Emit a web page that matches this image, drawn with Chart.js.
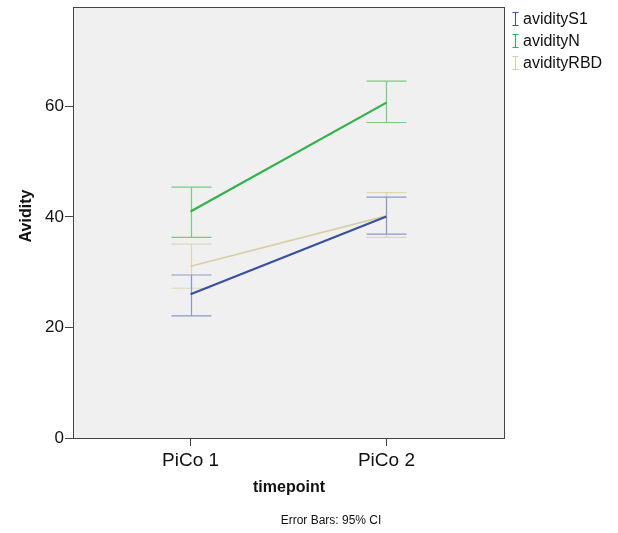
<!DOCTYPE html>
<html>
<head>
<meta charset="utf-8">
<script src="https://cdn.jsdelivr.net/npm/chart.js@4"></script>
<style>
  html, body { margin: 0; padding: 0; background: #fff; }
  #wrap { width: 618px; height: 533px; position: relative; }
</style>
</head>
<body>
<div id="wrap"><canvas id="chart"></canvas></div>
<script>
// data
const categories = ['PiCo 1', 'PiCo 2'];
const seriesNames = ['avidityS1', 'avidityN', 'avidityRBD'];
const meanS1 = [26.0, 40.1];
const meanN = [41.0, 60.7];
const meanRBD = [31.1, 40.2];
const lowS1 = [22.1, 36.9];
const highS1 = [29.5, 43.6];
const lowN = [36.3, 57.1];
const highN = [45.4, 64.6];
const lowRBD = [27.1, 36.3];
const highRBD = [35.1, 44.4];
const yTicks = [0, 20, 40, 60];

const lineColors = ['#3850a0', '#2fb34a', '#d6cfa5'];
const barColors = ['#8a98c8', '#73cc82', '#ddd6b4'];
const FONT = '"Liberation Sans", Arial, sans-serif';

const means = [meanS1, meanN, meanRBD];
const lows = [lowS1, lowN, lowRBD];
const highs = [highS1, highN, highRBD];

const toPoints = arr => arr.map((v, i) => ({ x: i + 1, y: v }));

// plot background + full frame
const frame = {
  id: 'frame',
  beforeDraw(chart) {
    const a = chart.chartArea, ctx = chart.ctx;
    ctx.save();
    ctx.fillStyle = '#f0f0f0';
    ctx.fillRect(a.left, a.top, a.right - a.left, a.bottom - a.top);
    ctx.restore();
  },
  afterDraw(chart) {
    const a = chart.chartArea, ctx = chart.ctx;
    ctx.save();
    ctx.strokeStyle = '#444';
    ctx.lineWidth = 1;
    ctx.strokeRect(a.left + 0.5, a.top + 0.5, a.right - a.left, a.bottom - a.top);

    // axis titles and footnote
    ctx.fillStyle = '#111';
    ctx.textAlign = 'center';
    ctx.textBaseline = 'middle';
    ctx.font = 'bold 16px ' + FONT;
    ctx.fillText('timepoint', 289, 488);
    ctx.font = '12px ' + FONT;
    ctx.fillText('Error Bars: 95% CI', 331, 521);
    ctx.save();
    ctx.translate(27, 216);
    ctx.rotate(-Math.PI / 2);
    ctx.font = 'bold 16px ' + FONT;
    ctx.fillText('Avidity', 0, 0);
    ctx.restore();

    // legend
    ctx.textAlign = 'left';
    ctx.font = '16px ' + FONT;
    seriesNames.forEach((name, i) => {
      const y = 19 + i * 22;
      ctx.strokeStyle = lineColors[i];
      ctx.lineWidth = 1;
      ctx.beginPath();
      ctx.moveTo(515.5, y - 6); ctx.lineTo(515.5, y + 6);
      ctx.moveTo(512.5, y - 6.5); ctx.lineTo(518.5, y - 6.5);
      ctx.moveTo(512.5, y + 6.5); ctx.lineTo(518.5, y + 6.5);
      ctx.stroke();
      ctx.fillStyle = '#111';
      ctx.fillText(name, 523, y + 1);
    });
    ctx.restore();
  }
};

// 95% CI bars
const errorBars = {
  id: 'errorBars',
  beforeDatasetsDraw(chart) {
    const xs = chart.scales.x, ys = chart.scales.y, ctx = chart.ctx;
    ctx.save();
    ctx.lineWidth = 1.2;
    [2, 0, 1].forEach(s => {
      ctx.strokeStyle = barColors[s];
      lows[s].forEach((lo, i) => {
        const x = Math.round(xs.getPixelForValue(i + 1)) + 0.5;
        const y1 = ys.getPixelForValue(lo);
        const y2 = ys.getPixelForValue(highs[s][i]);
        ctx.beginPath();
        ctx.moveTo(x, y1); ctx.lineTo(x, y2);
        ctx.moveTo(x - 20, y1); ctx.lineTo(x + 20, y1);
        ctx.moveTo(x - 20, y2); ctx.lineTo(x + 20, y2);
        ctx.stroke();
      });
    });
    ctx.restore();
  }
};

new Chart(document.getElementById('chart'), {
  type: 'line',
  data: {
    datasets: seriesNames.map((name, i) => ({
      label: name,
      data: toPoints(means[i]),
      borderColor: lineColors[i],
      borderWidth: i === 2 ? 1.6 : 2.2,
      pointRadius: 0,
      fill: false,
      tension: 0,
      order: i === 2 ? 3 : i === 0 ? 2 : 1
    }))
  },
  options: {
    responsive: true,
    maintainAspectRatio: false,
    animation: false,
    layout: { padding: { left: 0, top: 7, right: 114, bottom: 0 } },
    plugins: {
      legend: { display: false },
      tooltip: { enabled: false }
    },
    scales: {
      x: {
        type: 'linear',
        min: 0.4,
        max: 2.6,
        afterBuildTicks: scale => { scale.ticks = categories.map((_, i) => ({ value: i + 1 })); },
        afterFit: scale => { scale.height = 95; scale.paddingLeft = 0; scale.paddingRight = 0; },
        ticks: {
          callback: v => categories[v - 1],
          color: '#111',
          font: { family: FONT, size: 19 },
          padding: 3,
          maxRotation: 0
        },
        grid: { drawOnChartArea: false, tickLength: 8, color: '#444' },
        border: { color: '#444' }
      },
      y: {
        min: 0,
        max: 78,
        afterBuildTicks: scale => { scale.ticks = yTicks.map(v => ({ value: v })); },
        afterFit: scale => { scale.width = 73; scale.paddingTop = 0; scale.paddingBottom = 0; },
        ticks: {
          color: '#111',
          font: { family: FONT, size: 17 },
          padding: 1
        },
        grid: { drawOnChartArea: false, tickLength: 8, color: '#444' },
        border: { color: '#444' }
      }
    }
  },
  plugins: [frame, errorBars]
});
</script>
</body>
</html>
